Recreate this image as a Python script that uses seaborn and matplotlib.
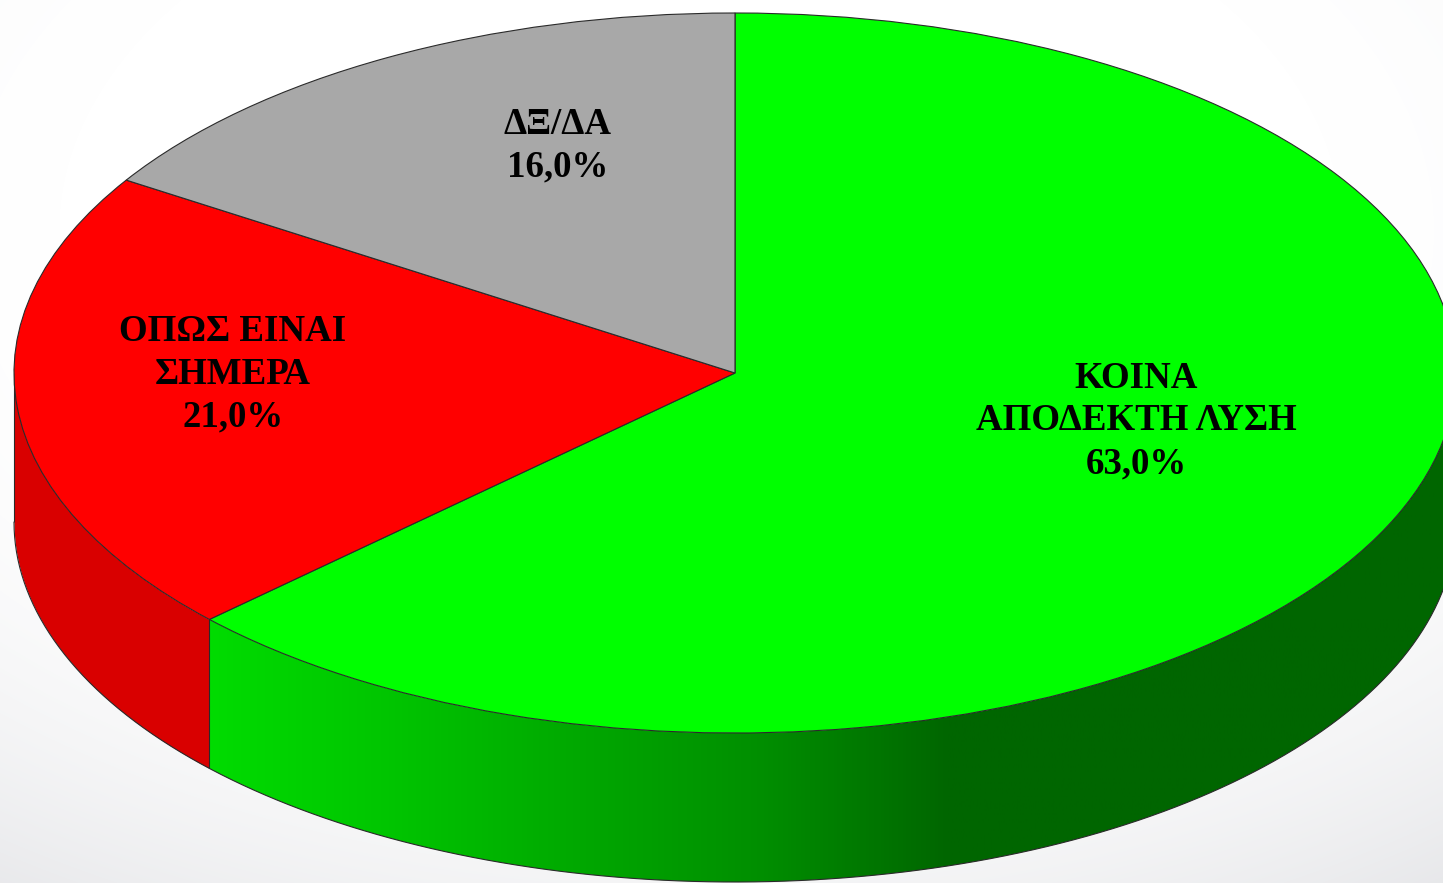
import numpy as np
import matplotlib
matplotlib.use("Agg")
import matplotlib.pyplot as plt
import seaborn as sns
from matplotlib.patches import Polygon

# values
labels = ["ΚΟΙΝΑ\nΑΠΟΔΕΚΤΗ ΛΥΣΗ\n63,0%", "ΟΠΩΣ ΕΙΝΑΙ\nΣΗΜΕΡΑ\n21,0%", "ΔΞ/ΔΑ\n16,0%"]
shares = [63.0, 21.0, 16.0]
top_colors = ["#00ff00", "#ff0000", "#a8a8a8"]
red_side = "#d90000"
green_side_stops = ["#00dc00", "#00c400", "#00a800", "#008e00", "#006600"]

# label centres in pixels of the 1443x883 picture
label_px = [(1136, 421), (233, 374), (558, 146)]

W, H = 1443, 883
cx, cy, rx, ry, depth = 735, 373, 721, 360, 149
gradient_end_px = 950

sns.set_theme(style="white")
plt.rcParams["font.family"] = ["Liberation Serif", "DejaVu Serif"]

fig = plt.figure(figsize=(W / 100, H / 100), dpi=100)

# soft slide background, white in the middle and grey towards the corners
bg = fig.add_axes([0, 0, 1, 1], zorder=0)
yy, xx = np.mgrid[0:H, 0:W]
dist = np.hypot((xx - 700) / W, (yy - 230) / H)
shade = 0.4 * np.clip(dist - 0.4, 0, None) ** 2
bg_cmap = sns.blend_palette(["#ffffff", "#d0d1d6"], as_cmap=True)
bg.imshow(shade, cmap=bg_cmap, vmin=0, vmax=0.2, aspect="auto")
bg.axis("off")

ax = fig.add_axes([0, 0, 1, 1], zorder=1)
ax.patch.set_alpha(0)

wedges, _ = ax.pie(
    shares,
    colors=sns.color_palette(top_colors),
    startangle=90,
    counterclock=False,
    wedgeprops={"edgecolor": "#2a2a2a", "linewidth": 0.8, "zorder": 5},
)

# flatten the pie, one data unit is rx pixels across and ry pixels down
x_lim = (-cx / rx, (W - cx) / rx)
y_lim = ((cy - H) / ry, cy / ry)
drop = depth / ry

# side wall, only the front half of the rim is visible
ends = 90 - np.cumsum(shares) * 3.6
red_start = ends[0] + 360
edge_x = np.cos(np.radians(red_start))
edge_y = np.sin(np.radians(red_start))

t = np.radians(np.linspace(red_start, 360, 300))
wall = np.r_[np.c_[np.cos(t), np.sin(t)], np.c_[np.cos(t), np.sin(t) - drop][::-1]]
wall_patch = Polygon(wall, closed=True, transform=ax.transData, facecolor="none", edgecolor="none")
ax.add_patch(wall_patch)

# the green wall darkens from left to right, then stays dark
green_cmap = sns.blend_palette(green_side_stops, as_cmap=True)
grad_end = (gradient_end_px - cx) / rx
grad_x = np.clip((np.linspace(edge_x, 1, 900) - edge_x) / (grad_end - edge_x), 0, 1)
img = ax.imshow(
    grad_x[np.newaxis, :],
    cmap=green_cmap,
    vmin=0,
    vmax=1,
    extent=(edge_x, 1, -1 - drop, 0),
    aspect="auto",
    zorder=2,
)
img.set_clip_path(wall_patch)

t = np.radians(np.linspace(180, red_start, 60))
ax.fill_between(np.cos(t), np.sin(t), np.sin(t) - drop, color=red_side, lw=0, zorder=2)

# rim outlines
t = np.radians(np.linspace(180, 360, 300))
ax.plot(np.cos(t), np.sin(t) - drop, color="#2a2a2a", lw=0.8, zorder=4)
ax.plot([edge_x, edge_x], [edge_y, edge_y - drop], color="#2a2a2a", lw=0.8, zorder=4)
ax.plot([-1, -1], [0, -drop], color="#2a2a2a", lw=0.8, zorder=4, solid_capstyle="butt")

for text, (px, py) in zip(labels, label_px):
    ax.text(
        (px - cx) / rx,
        (cy - py) / ry,
        text,
        ha="center",
        va="center",
        fontsize=26.6,
        fontweight="bold",
        color="black",
        linespacing=1.28,
        zorder=6,
    )

ax.set_aspect("auto")
ax.set_xlim(x_lim)
ax.set_ylim(y_lim)

fig.savefig("out.png", dpi=100)
